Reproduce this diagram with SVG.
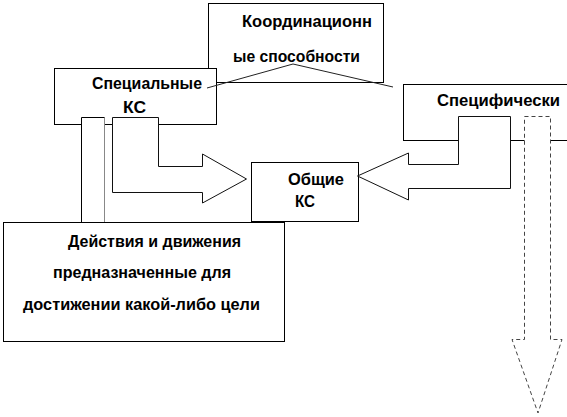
<svg xmlns="http://www.w3.org/2000/svg" width="567" height="417" viewBox="0 0 567 417">
<style>
.box{fill:#fff;stroke:#000;stroke-width:1}
.arr{fill:#fff;stroke:#111;stroke-width:1}
.dash{fill:#fff;stroke:#444;stroke-width:1;stroke-dasharray:4,3}
.ln{fill:none;stroke:#222;stroke-width:1}
text{font-family:"Liberation Sans",Arial,sans-serif;font-weight:bold;font-size:16px;fill:#000}
</style>
<rect width="567" height="417" fill="#fff"/>
<g id="node-koord">
<rect class="box" x="208.5" y="3.5" width="175" height="79"/>
<text x="242" y="27" textLength="130" lengthAdjust="spacingAndGlyphs">Координационн</text>
<text x="233" y="62" textLength="127" lengthAdjust="spacingAndGlyphs">ые способности</text>
</g>
<g id="node-spec">
<rect class="box" x="54.5" y="68.5" width="162" height="56"/>
<text x="92" y="89" textLength="110" lengthAdjust="spacingAndGlyphs">Специальные</text>
<text x="123" y="113" textLength="23" lengthAdjust="spacingAndGlyphs">КС</text>
</g>
<g id="node-specif">
<rect class="box" x="403.5" y="84.5" width="170" height="56"/>
<text x="437" y="106" textLength="123" lengthAdjust="spacingAndGlyphs">Специфически</text>
</g>
<g id="node-obsh">
<rect class="box" x="251.5" y="162.5" width="107" height="59"/>
<text x="288" y="185" textLength="56" lengthAdjust="spacingAndGlyphs">Общие</text>
<text x="295" y="207" textLength="20" lengthAdjust="spacingAndGlyphs">КС</text>
</g>
<g id="node-deistv">
<rect class="box" x="3.5" y="222.5" width="281" height="119"/>
<text x="68" y="247" textLength="173" lengthAdjust="spacingAndGlyphs">Действия и движения</text>
<text x="53" y="278" textLength="178" lengthAdjust="spacingAndGlyphs">предназначенные для</text>
<text x="23" y="310" textLength="237" lengthAdjust="spacingAndGlyphs">достижении какой-либо цели</text>
</g>
<g id="connectors">
<polyline class="ln" points="207,88 293,64 393,87"/>
<rect x="81.5" y="117.5" width="23" height="104.5" fill="#fff" stroke="none"/>
<path d="M81.5,222 V117.5 H104.5 V222" fill="none" stroke="#000"/>
<path d="M104.5,117.5 V222" fill="none" stroke="#888"/>
<polygon class="arr" points="112.5,117.5 158.5,117.5 158.5,166.5 202.5,166.5 202.5,154 246.5,179 202.5,203 202.5,192.5 112.5,192.5"/>
<polygon class="arr" points="357.5,176 408.5,153 408.5,164.5 458.5,164.5 458.5,116.5 510.5,116.5 510.5,188.5 408.5,188.5 408.5,200"/>
<polygon class="dash" points="524.5,116.5 550.5,116.5 550.5,339.5 562,339.5 538,413 512,339.5 524.5,339.5"/>
</g>
</svg>
